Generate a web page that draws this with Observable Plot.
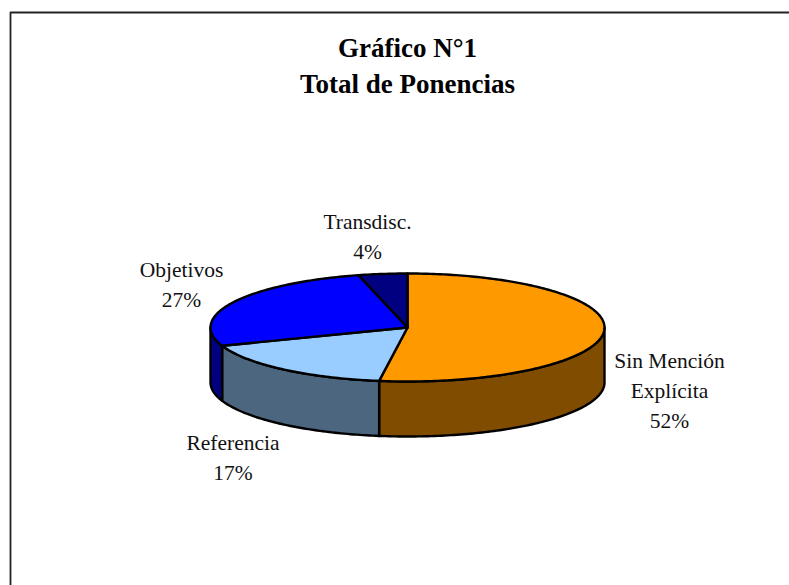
<!DOCTYPE html>
<html><head><meta charset="utf-8">
<style>html,body{margin:0;padding:0;background:#fff;overflow:hidden}</style>
<script src="https://cdn.jsdelivr.net/npm/d3@7"></script>
<script src="https://cdn.jsdelivr.net/npm/@observablehq/plot@0.6"></script>
</head><body><div id="chart"></div>
<script>
const categories = ["Sin Mención Explícita", "Referencia", "Objetivos", "Transdisc."];
const values = [52.3, 17.2, 26.5, 4.0];
const topColors = ["#ff9900", "#99ccff", "#0000ff", "#000080"];
const sideColors = ["#804d00", "#4d6680", "#000080", "#000040"];
const labelLines = [["Sin Mención", "Explícita", "52%"], ["Referencia", "17%"], ["Objetivos", "27%"], ["Transdisc.", "4%"]];
const labelAnchors = [[669, 388], [232.5, 455], [181, 281.5], [367, 234]];
const titleLines = ["Gráfico N°1", "Total de Ponencias"];

const W = 789, H = 585;
const cx = 407, cy = 327, rx = 197, ry = 54, depth = 55;
const ink = "#000";

const pt = (t, dy = 0) => ({x: cx + rx * Math.sin(t), y: cy - ry * Math.cos(t) + dy});
const total = d3.sum(values);
let acc = 0;
const slices = values.map((v, i) => {
  const a0 = acc / total * 2 * Math.PI;
  acc += v;
  return {i, a0, a1: acc / total * 2 * Math.PI};
});
const arc = (a0, a1, dy = 0) => {
  const n = Math.max(2, Math.ceil((a1 - a0) * 60));
  return d3.range(n + 1).map(k => pt(a0 + (a1 - a0) * k / n, dy));
};
// Visible rim: the part of the arc facing the viewer (angle between 90° and 270°)
const rim = s => {
  const a0 = Math.max(s.a0, Math.PI / 2), a1 = Math.min(s.a1, 3 * Math.PI / 2);
  if (a1 <= a0) return null;
  return [...arc(a0, a1), ...arc(a0, a1, depth).reverse()];
};
const wedge = s => [{x: cx, y: cy}, ...arc(s.a0, s.a1)];

const marks = [];
// chart frame: top and left edges only
marks.push(Plot.line([{x: 10, y: H}, {x: 10, y: 12}, {x: W, y: 12}],
  {x: "x", y: "y", stroke: "#222", strokeWidth: 1.8}));
slices.forEach(s => {
  const r = rim(s);
  if (r) marks.push(Plot.line(r, {x: "x", y: "y", fill: sideColors[s.i], stroke: ink, strokeWidth: 2.4, strokeLinejoin: "round", curve: "linear-closed"}));
});
slices.forEach(s => {
  marks.push(Plot.line(wedge(s), {x: "x", y: "y", fill: topColors[s.i], stroke: ink, strokeWidth: 2.4, strokeLinejoin: "round", curve: "linear-closed"}));
});
const labelRows = labelLines.map((l, i) => ({t: l.join("\n"), x: labelAnchors[i][0], y: labelAnchors[i][1]}));
marks.push(Plot.text(labelRows, {x: "x", y: "y", text: "t", lineHeight: 1.4, fontFamily: "Liberation Serif", fontSize: 21.5, fill: "#111", textAnchor: "middle"}));
marks.push(Plot.text([{t: titleLines.join("\n"), x: 407, y: 63}], {x: "x", y: "y", text: "t", lineHeight: 1.333, fontFamily: "Liberation Serif", fontSize: 27, fontWeight: "bold", fill: "#000"}));

const svg = Plot.plot({
  width: W, height: H, margin: 0,
  x: {domain: [0, W], range: [0, W], axis: null},
  y: {domain: [0, H], range: [0, H], axis: null},
  style: {background: "#fff", display: "block"},
  marks
});
document.getElementById("chart").append(svg);
</script></body></html>
